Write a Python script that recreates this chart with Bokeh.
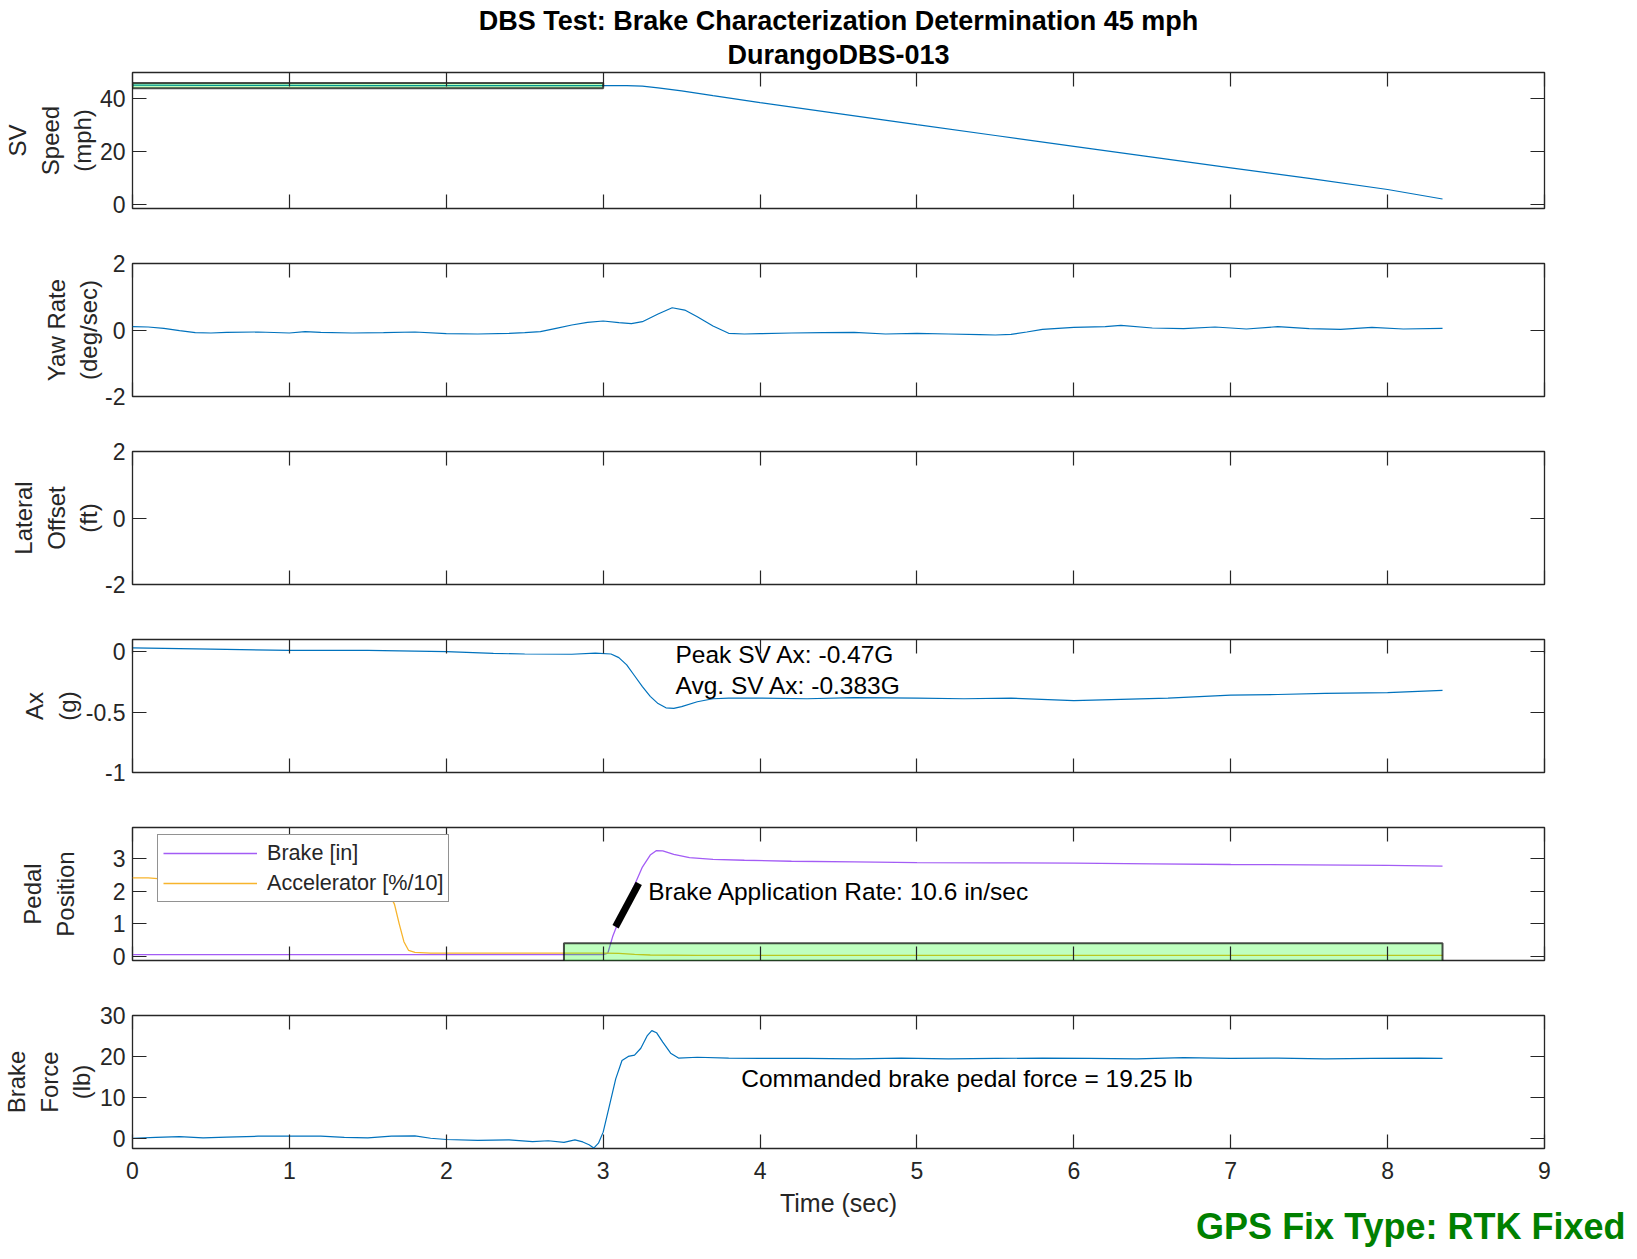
from bokeh.plotting import figure
from bokeh.layouts import column
from bokeh.models import Range1d, FixedTicker, LinearAxis, Label, Legend, LegendItem, Title
from bokeh.embed import file_html
from bokeh.resources import INLINE

# ---------------- data ----------------
time_ticks = [0, 1, 2, 3, 4, 5, 6, 7, 8, 9]

t_speed = [0, 0.5, 1.0, 1.5, 2.0, 2.5, 3.0, 3.15, 3.25, 3.35, 3.5, 3.7, 4.0, 4.5, 5.0, 5.5, 6.0, 6.5, 7.0, 7.5, 8.0, 8.35]
speed = [45.2, 45.1, 45.1, 45.0, 45.0, 45.0, 45.0, 45.0, 44.8, 44.2, 43.0, 41.2, 38.6, 34.4, 30.2, 26.1, 22.0, 17.9, 13.8, 9.8, 5.6, 2.0]
speed_box_t = [0.0, 3.0]
speed_box_mph = [44.0, 46.0]

t_yaw = [0, 0.1, 0.2, 0.3, 0.4, 0.5, 0.6, 0.8, 1.0, 1.1, 1.2, 1.4, 1.6, 1.8, 2.0, 2.2, 2.4, 2.5, 2.6, 2.7,
         2.8, 2.9, 3.0, 3.1, 3.18, 3.25, 3.35, 3.44, 3.52, 3.6, 3.7, 3.8, 3.9, 4.0, 4.2, 4.4, 4.6, 4.8, 5.0, 5.2,
         5.4, 5.5, 5.6, 5.7, 5.8, 6.0, 6.2, 6.3, 6.5, 6.7, 6.9, 7.1, 7.3, 7.5, 7.7, 7.9, 8.1, 8.35]
yaw = [0.10, 0.09, 0.05, -0.02, -0.08, -0.09, -0.07, -0.06, -0.09, -0.05, -0.07, -0.09, -0.08, -0.06, -0.11, -0.12, -0.10, -0.08, -0.05, 0.05,
       0.15, 0.23, 0.27, 0.22, 0.19, 0.25, 0.48, 0.67, 0.60, 0.40, 0.12, -0.10, -0.12, -0.11, -0.09, -0.08, -0.07, -0.12, -0.10, -0.12,
       -0.14, -0.15, -0.13, -0.06, 0.02, 0.08, 0.10, 0.14, 0.06, 0.04, 0.09, 0.03, 0.10, 0.04, 0.02, 0.08, 0.03, 0.05]

t_ax = [0, 0.5, 1.0, 1.5, 2.0, 2.3, 2.5, 2.8, 2.95, 3.05, 3.1, 3.15, 3.2, 3.25, 3.3, 3.35, 3.4, 3.45, 3.5, 3.6,
        3.7, 3.8, 4.0, 4.3, 4.6, 5.0, 5.3, 5.6, 6.0, 6.3, 6.6, 7.0, 7.3, 7.6, 8.0, 8.35]
ax_g = [0.03, 0.02, 0.01, 0.01, 0.0, -0.015, -0.02, -0.022, -0.012, -0.02, -0.05, -0.11, -0.20, -0.29, -0.37, -0.43, -0.465, -0.47, -0.455, -0.415,
        -0.39, -0.385, -0.385, -0.39, -0.38, -0.385, -0.39, -0.385, -0.405, -0.395, -0.385, -0.36, -0.355, -0.345, -0.34, -0.32]

t_brake = [0, 1.0, 2.0, 2.9, 3.0, 3.03, 3.06, 3.1, 3.15, 3.2, 3.25, 3.3, 3.34, 3.38, 3.45, 3.55, 3.7, 3.9, 4.2, 4.6,
           5.0, 5.5, 6.0, 6.5, 7.0, 7.5, 8.0, 8.35]
brake_in = [0.05, 0.05, 0.05, 0.05, 0.05, 0.1, 0.6, 1.1, 1.65, 2.2, 2.75, 3.12, 3.26, 3.25, 3.14, 3.04, 2.99, 2.96, 2.93, 2.91,
            2.89, 2.88, 2.87, 2.85, 2.83, 2.82, 2.80, 2.78]

t_acc = [0, 0.1, 0.2, 0.4, 0.7, 1.0, 1.3, 1.5, 1.62, 1.67, 1.7, 1.73, 1.76, 1.8, 1.9, 2.2, 2.5, 2.8, 3.0, 3.1,
         3.2, 3.3, 3.6, 4.0, 5.0, 6.0, 7.0, 8.0, 8.35]
accel = [2.42, 2.42, 2.38, 2.35, 2.33, 2.3, 2.28, 2.25, 2.1, 1.6, 1.0, 0.45, 0.18, 0.12, 0.1, 0.1, 0.1, 0.1, 0.1, 0.09,
         0.06, 0.04, 0.03, 0.03, 0.03, 0.03, 0.03, 0.03, 0.03]

pedal_box_t = [2.75, 8.35]
pedal_box_pos = [-0.4, 0.4]
rate_line_t = [3.079, 3.227]
rate_line_pos = [0.91, 2.25]

t_force = [0, 0.15, 0.3, 0.45, 0.6, 0.8, 1.0, 1.2, 1.35, 1.5, 1.65, 1.8, 1.9, 2.0, 2.2, 2.4, 2.55, 2.65, 2.75, 2.82,
           2.87, 2.91, 2.94, 2.97, 3.0, 3.04, 3.08, 3.12, 3.16, 3.2, 3.24, 3.28, 3.31, 3.34, 3.38, 3.43, 3.48, 3.6, 3.8, 4.0,
           4.3, 4.6, 4.9, 5.2, 5.5, 5.8, 6.1, 6.4, 6.7, 7.0, 7.3, 7.6, 7.9, 8.2, 8.35]
force_lb = [0.0, 0.2, 0.4, 0.1, 0.3, 0.5, 0.5, 0.5, 0.2, 0.1, 0.5, 0.6, 0.0, -0.3, -0.5, -0.4, -0.8, -0.6, -1.0, -0.4,
            -0.9, -1.6, -2.4, -1.2, 1.5, 8.0, 14.5, 19.0, 20.0, 20.3, 22.0, 25.0, 26.3, 25.8, 23.5, 20.8, 19.6, 19.8, 19.6, 19.5,
            19.5, 19.4, 19.6, 19.4, 19.5, 19.6, 19.5, 19.4, 19.7, 19.5, 19.6, 19.4, 19.5, 19.6, 19.5]

# ---------------- style ----------------
FONT = "Liberation Sans"
AXC = "#262626"
BLUE = "#0072BD"
FW, FH = 1412, 133
LEFT, RIGHT = 126, 83
TL = 14
TICK_FS = "23px"
YLAB_FS = "24px"


def make_panel(ylabel, yr, yticks, top, bottom, last=False, overrides=None, label_gap=2, fh=FH):
    p = figure(frame_width=FW, frame_height=fh, x_range=Range1d(0, 9), y_range=Range1d(*yr),
               min_border_left=LEFT, min_border_right=RIGHT, min_border_top=top, min_border_bottom=bottom,
               output_backend="svg", toolbar_location=None)
    p.xgrid.visible = False
    p.ygrid.visible = False
    p.outline_line_color = AXC
    p.outline_line_width = 1.3
    p.background_fill_color = "white"
    p.border_fill_color = "white"

    xa = p.xaxis[0]
    xa.ticker = FixedTicker(ticks=time_ticks)
    ya = p.yaxis[0]
    ya.ticker = FixedTicker(ticks=yticks)
    if overrides:
        ya.major_label_overrides = overrides
    for a in (xa, ya):
        a.axis_line_color = None
        a.major_tick_in = TL
        a.major_tick_out = 0
        a.minor_tick_line_color = None
        a.major_tick_line_color = AXC
        a.major_tick_line_width = 1.2
        a.major_label_text_font = FONT
        a.major_label_text_font_size = TICK_FS
        a.major_label_text_color = AXC
        a.axis_label_text_font = FONT
        a.axis_label_text_font_style = "normal"
        a.axis_label_text_color = AXC
    ya.major_label_standoff = 7
    ya.axis_label = ylabel
    ya.axis_label_text_font_size = YLAB_FS
    ya.axis_label_standoff = label_gap
    if last:
        xa.major_label_standoff = 13
        xa.axis_label = "Time (sec)"
        xa.axis_label_text_font_size = "25px"
        xa.axis_label_standoff = 7
    else:
        xa.major_label_text_font_size = "1px"
        xa.major_label_text_color = None
        xa.major_label_standoff = 0

    for loc, ticks in (("above", time_ticks), ("right", yticks)):
        ex = LinearAxis(ticker=FixedTicker(ticks=ticks), major_label_text_font_size="1px",
                        major_label_text_color=None,
                        major_label_standoff=0, major_tick_in=TL, major_tick_out=0,
                        minor_tick_line_color=None, axis_line_color=None,
                        major_tick_line_color=AXC, major_tick_line_width=1.2)
        p.add_layout(ex, loc)
    return p


def box(p, xs, ys):
    p.quad(left=xs[0], right=xs[1], bottom=ys[0], top=ys[1], fill_color="#00FF00", fill_alpha=0.25,
           line_color="black", line_alpha=0.7, line_width=2)


def note(p, x, y, text):
    p.add_layout(Label(x=x, y=y, text=text, text_font=FONT, text_font_size="24.5px", text_color="black",
                       text_baseline="middle", text_align="left"))


# Panel 1: speed
p1 = make_panel("SV\nSpeed\n(mph)", (-1.6, 50), [0, 20, 40], 72, 27, label_gap=1, fh=136)
p1.line(t_speed, speed, line_color=BLUE, line_width=1.2)
box(p1, speed_box_t, speed_box_mph)
p1.add_layout(Title(text="DurangoDBS-013", align="center", text_font=FONT, text_font_size="27px",
                    text_font_style="bold", text_color="black", standoff=5), "above")
p1.add_layout(Title(text="DBS Test: Brake Characterization Determination 45 mph", align="center",
                    text_font=FONT, text_font_size="27px", text_font_style="bold", text_color="black",
                    standoff=0), "above")

# Panel 2: yaw
p2 = make_panel("Yaw Rate\n(deg/sec)", (-2, 2), [-2, 0, 2], 28, 27,
                overrides={-2: "-2", 0: "0", 2: "2"}, label_gap=0)
p2.line(t_yaw, yaw, line_color=BLUE, line_width=1.2)

# Panel 3: lateral offset (no data)
p3 = make_panel("Lateral\nOffset\n(ft)", (-2, 2), [-2, 0, 2], 28, 27,
                overrides={-2: "-2", 0: "0", 2: "2"}, label_gap=0)

# Panel 4: Ax
p4 = make_panel("Ax\n(g)", (-1, 0.1), [-1, -0.5, 0], 28, 27,
                overrides={-1: "-1", -0.5: "-0.5", 0: "0"}, label_gap=2)
p4.line(t_ax, ax_g, line_color=BLUE, line_width=1.2)
note(p4, 3.461, -0.026, "Peak SV Ax: -0.47G")
note(p4, 3.461, -0.284, "Avg. SV Ax: -0.383G")

# Panel 5: pedal position
p5 = make_panel("Pedal\nPosition", (-0.13, 3.97), [0, 1, 2, 3], 28, 27, label_gap=31)
rb = p5.line(t_brake, brake_in, line_color="#A35CF5", line_width=1.3)
ra = p5.line(t_acc, accel, line_color="#F7B42C", line_width=1.3)
box(p5, pedal_box_t, pedal_box_pos)
p5.line(rate_line_t, rate_line_pos, line_color="black", line_width=7, line_cap="butt")
note(p5, 3.287, 2.0, "Brake Application Rate: 10.6 in/sec")
leg = Legend(items=[LegendItem(label="Brake [in]", renderers=[rb]),
                    LegendItem(label="Accelerator [%/10]", renderers=[ra])],
             location=(25, 58), label_text_font=FONT, label_text_font_size="21.6px",
             label_text_color=AXC, border_line_color=AXC, border_line_width=1.3,
             background_fill_color="white", background_fill_alpha=1.0,
             padding=5, spacing=4, glyph_width=94, glyph_height=20, label_height=20,
             label_standoff=10, margin=0)
p5.add_layout(leg, "center")

# Panel 6: brake force
p6 = make_panel("Brake\nForce\n(lb)", (-2.5, 30), [0, 10, 20, 30], 28, 99, last=True, label_gap=2)
p6.line(t_force, force_lb, line_color=BLUE, line_width=1.2)
note(p6, 3.88, 14.5, "Commanded brake pedal force = 19.25 lb")
p6.add_layout(Title(text="GPS Fix Type: RTK Fixed", align="right", offset=-81, vertical_align="top",
                    standoff=-28, text_font=FONT, text_font_size="36px", text_font_style="bold",
                    text_color="#008000"), "below")

layout = column(p1, p2, p3, p4, p5, p6, spacing=0)
open("out.html", "w").write(file_html(layout, INLINE))
